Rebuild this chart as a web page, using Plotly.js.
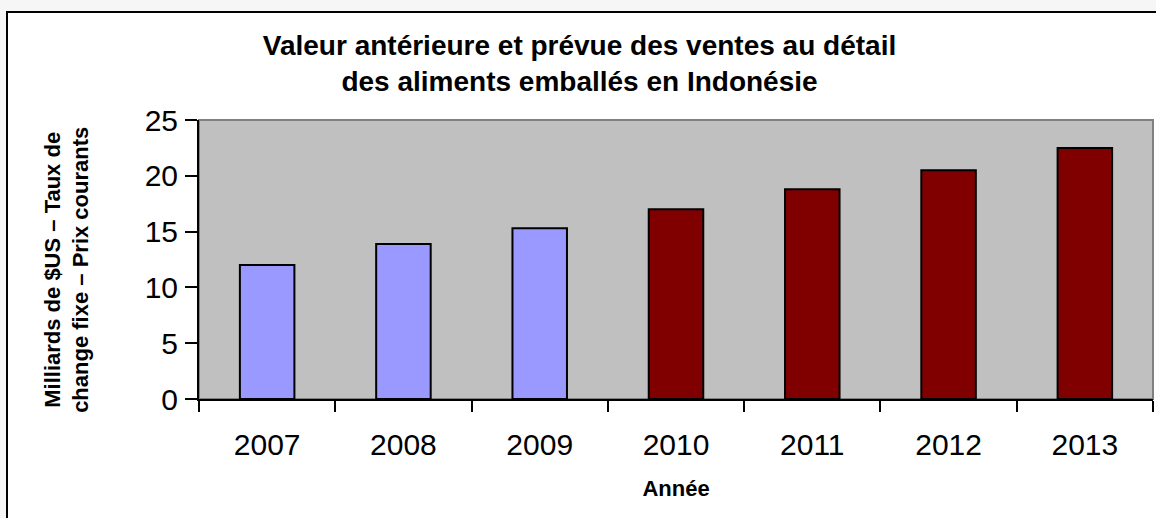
<!DOCTYPE html>
<html>
<head>
<meta charset="utf-8">
<script src="https://cdn.plot.ly/plotly-3.0.1.min.js"></script>
<style>
  html, body { margin: 0; padding: 0; width: 1156px; height: 518px; overflow: hidden; background: #f6f6f6; }
  #frame { position: absolute; left: 6px; top: 11px; width: 1170px; height: 530px; background: #ffffff; border: 2px solid #000000; }
  #chart { position: absolute; left: 0; top: 0; width: 1156px; height: 518px; }
</style>
</head>
<body>
<div id="frame"></div>
<div id="chart"></div>
<script>
// ---- Data ----
const years = ['2007', '2008', '2009', '2010', '2011', '2012', '2013'];
const values = [12.0, 13.9, 15.3, 17.0, 18.8, 20.5, 22.5];
const period = ['antérieure', 'antérieure', 'antérieure', 'prévue', 'prévue', 'prévue', 'prévue'];

const titleLines = ['Valeur antérieure et prévue des ventes au détail', 'des aliments emballés en Indonésie'];
const xTitle = 'Année';
const yTitleLines = ['Milliards de $US – Taux de', 'change fixe – Prix courants'];

// ---- Styles ----
const periodColors = { 'antérieure': '#9999ff', 'prévue': '#800000' };
const FONT = 'Arial, "Liberation Sans", sans-serif';
const bold = lines => lines.map(s => '<b>' + s + '</b>').join('<br>');

const trace = {
  type: 'bar',
  x: years,
  y: values,
  width: 0.4,
  marker: {
    color: period.map(p => periodColors[p]),
    line: { color: '#000000', width: 2 }
  },
  hoverinfo: 'x+y',
  showlegend: false
};

const layout = {
  width: 1156,
  height: 518,
  margin: { l: 199, r: 3, t: 120, b: 119, pad: 0 },
  paper_bgcolor: 'rgba(0,0,0,0)',
  plot_bgcolor: '#c0c0c0',
  font: { family: FONT, color: '#000000' },
  title: {
    text: bold(titleLines),
    font: { family: FONT, size: 28, color: '#000000' },
    x: 0.5013, xanchor: 'center', xref: 'container',
    y: 0.8945, yanchor: 'middle', yref: 'container'
  },
  xaxis: {
    type: 'category',
    tickson: 'boundaries',
    ticks: 'outside',
    ticklen: 11,
    tickwidth: 2,
    tickcolor: '#000000',
    showline: true,
    linecolor: '#000000',
    linewidth: 2,
    showgrid: false,
    zeroline: false,
    tickfont: { family: FONT, size: 30, color: '#000000' },
    ticklabelstandoff: 18,
    title: { text: '<b>' + xTitle + '</b>', font: { family: FONT, size: 22, color: '#000000' }, standoff: 21 }
  },
  yaxis: {
    range: [0, 25],
    dtick: 5,
    tick0: 0,
    ticks: 'outside',
    ticklen: 12,
    tickwidth: 2,
    tickcolor: '#000000',
    showline: true,
    linecolor: '#000000',
    linewidth: 2,
    showgrid: false,
    zeroline: false,
    tickfont: { family: FONT, size: 30, color: '#000000' },
    ticklabelstandoff: 1
  },
  annotations: [{
    text: bold(yTitleLines),
    font: { family: FONT, size: 22, color: '#000000' },
    textangle: -90,
    xref: 'paper', yref: 'paper',
    x: -0.1385, y: 0.4624,
    xanchor: 'center', yanchor: 'middle',
    showarrow: false
  }],
  shapes: [{
    type: 'rect', xref: 'paper', yref: 'paper',
    x0: 0, x1: 1, y0: 0, y1: 1,
    line: { color: '#808080', width: 2 },
    fillcolor: 'rgba(0,0,0,0)',
    layer: 'below'
  }],
  bargap: 0.6
};

Plotly.newPlot('chart', [trace], layout, { displayModeBar: false, staticPlot: true });
</script>
</body>
</html>
